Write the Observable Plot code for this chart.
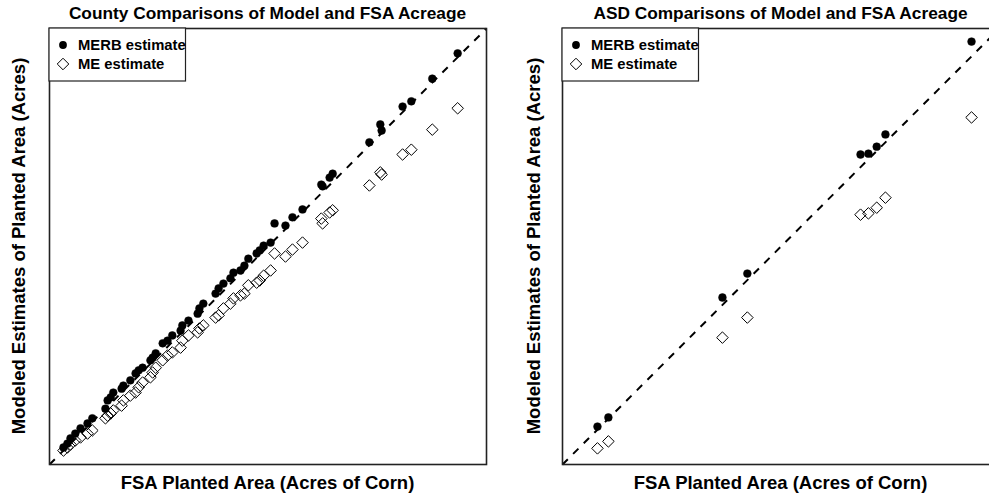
<!DOCTYPE html>
<html>
<head>
<meta charset="utf-8">
<script src="https://cdn.jsdelivr.net/npm/d3@7"></script>
<script src="https://cdn.jsdelivr.net/npm/@observablehq/plot@0.6"></script>
<style>
  html, body { margin: 0; padding: 0; background: #fff; overflow: hidden; }
  #wrap { position: relative; width: 989px; height: 498px; overflow: hidden; background: #fff; }
  .panel { position: absolute; top: 0; width: 500px; height: 498px; }
  .panel svg { max-width: none !important; width: 500px; height: 498px; display: block; }
  #overlay { position: absolute; left: 0; top: 0; }
  svg text { font-family: "Liberation Sans", Arial, Helvetica, sans-serif; font-weight: bold; }
</style>
</head>
<body>
<div id="wrap">
  <div class="panel" id="left" style="left:0px"></div>
  <div class="panel" id="right" style="left:513px"></div>
</div>
<script>
// ---------- data (thousand acres) ----------
const axisRange = [0, 100];

const countyFSA  = [93.4, 87.6, 82.8, 80.8, 75.7, 76.0, 73.2, 64.8, 64.1, 62.2, 62.5, 57.9, 55.6, 54.0, 51.5, 50.6, 49.0, 48.1, 47.4, 45.5, 44.6, 43.7, 42.1, 41.4, 39.8, 38.7, 38.0, 35.2, 34.3, 33.9, 31.8, 30.4, 30.0, 28.1, 27.0, 25.9, 24.3, 23.6, 23.1, 21.3, 20.4, 19.7, 18.5, 16.9, 16.5, 14.6, 14.0, 13.3, 12.8, 9.8, 8.7, 7.1, 5.9, 4.8, 4.1, 3.2];
const countyMERB = [94.3, 88.5, 83.3, 82.1, 78.0, 76.6, 73.9, 66.7, 65.8, 64.2, 63.8, 58.5, 56.7, 54.8, 55.3, 50.9, 50.2, 49.1, 48.4, 47.2, 45.6, 44.5, 44.0, 42.7, 41.5, 40.4, 39.2, 36.9, 35.8, 34.6, 33.0, 31.9, 30.7, 29.6, 28.4, 27.8, 25.5, 24.5, 23.9, 22.2, 21.6, 20.9, 19.3, 18.1, 17.4, 16.5, 15.4, 14.7, 12.8, 10.6, 9.4, 8.3, 7.1, 6.0, 4.8, 3.9];
const countyME   = [81.7, 76.8, 72.2, 71.1, 67.0, 66.5, 64.0, 58.3, 57.8, 56.4, 55.3, 50.9, 49.3, 47.7, 48.4, 44.5, 43.3, 42.2, 41.7, 41.1, 39.2, 38.8, 38.1, 36.9, 35.8, 34.2, 33.7, 31.9, 31.2, 30.3, 29.6, 28.4, 26.8, 25.7, 25.0, 23.9, 22.2, 21.1, 20.0, 18.8, 17.7, 16.5, 15.8, 14.7, 13.5, 12.4, 11.7, 11.2, 10.6, 7.8, 7.1, 6.2, 5.5, 4.6, 3.9, 3.2];

const asdFSA  = [93.6, 73.9, 71.9, 70.0, 68.2, 42.3, 36.6, 10.5, 8.0];
const asdMERB = [97.0, 75.7, 72.9, 71.3, 71.1, 43.8, 38.3, 10.8, 8.7];
const asdME   = [79.6, 61.2, 58.9, 57.6, 57.3, 33.7, 29.1, 5.3, 3.7];

const titles = ["County Comparisons of Model and FSA Acreage", "ASD Comparisons of Model and FSA Acreage"];
const xLabel = "FSA Planted Area (Acres of Corn)";
const yLabel = "Modeled Estimates of Planted Area (Acres)";
const legendLabels = ["MERB estimate", "ME estimate"];

// ---------- build tables ----------
const county = countyFSA.map((f, i) => ({fsa: f, merb: countyMERB[i], me: countyME[i]}));
const asd = asdFSA.map((f, i) => ({fsa: f, merb: asdMERB[i], me: asdME[i]}));

function panel(rows) {
  return Plot.plot({
    width: 500,
    height: 498,
    marginLeft: 49,
    marginRight: 14,
    marginTop: 28,
    marginBottom: 34,
    style: {maxWidth: "none", background: "transparent"},
    x: {domain: axisRange, axis: null},
    y: {domain: axisRange, axis: null},
    marks: [
      Plot.link([axisRange], {
        x1: d => d[0], y1: d => d[0], x2: d => d[1], y2: d => d[1],
        stroke: "black", strokeWidth: 2, strokeDasharray: "7.5,7.5"
      }),
      Plot.dot(rows, {x: "fsa", y: "merb", r: 3.9, fill: "black", stroke: "black", strokeWidth: 0.5}),
      Plot.dot(rows, {x: "fsa", y: "me", r: 5.2, symbol: "diamond2", fill: "none", stroke: "black", strokeWidth: 1}),
      Plot.frame({stroke: "#222", strokeWidth: 1.6})
    ]
  });
}

document.getElementById("left").appendChild(panel(county));
document.getElementById("right").appendChild(panel(asd));

// ---------- titles, axis labels, legends ----------
const ov = d3.select("#wrap").append("svg")
  .attr("id", "overlay")
  .attr("width", 989).attr("height", 498);

const panels = [{cx: 267.5, left: 49, ylab: 25}, {cx: 780.5, left: 562, ylab: 540}];
panels.forEach((p, i) => {
  ov.append("text").attr("x", p.cx).attr("y", 19)
    .attr("text-anchor", "middle").attr("font-size", 17.3).text(titles[i]);
  ov.append("text").attr("x", p.cx).attr("y", 489)
    .attr("text-anchor", "middle").attr("font-size", 18.5).text(xLabel);
  ov.append("text").attr("transform", `translate(${p.ylab},246) rotate(-90)`)
    .attr("text-anchor", "middle").attr("font-size", 18.5).text(yLabel);

  const g = ov.append("g").attr("transform", `translate(${p.left},28)`);
  g.append("rect").attr("x", 0).attr("y", 0).attr("width", 136.5).attr("height", 53)
    .attr("fill", "white").attr("stroke", "#222").attr("stroke-width", 1.2);
  g.append("circle").attr("cx", 14).attr("cy", 17).attr("r", 3.9).attr("fill", "black");
  g.append("path").attr("transform", "translate(14,36)")
    .attr("d", d3.symbol(d3.symbolDiamond2, Math.PI * 5.2 * 5.2)())
    .attr("fill", "none").attr("stroke", "black").attr("stroke-width", 1);
  g.append("text").attr("x", 29).attr("y", 22.4).attr("font-size", 14.8).text(legendLabels[0]);
  g.append("text").attr("x", 29).attr("y", 41.4).attr("font-size", 14.8).text(legendLabels[1]);
});
</script>
</body>
</html>
